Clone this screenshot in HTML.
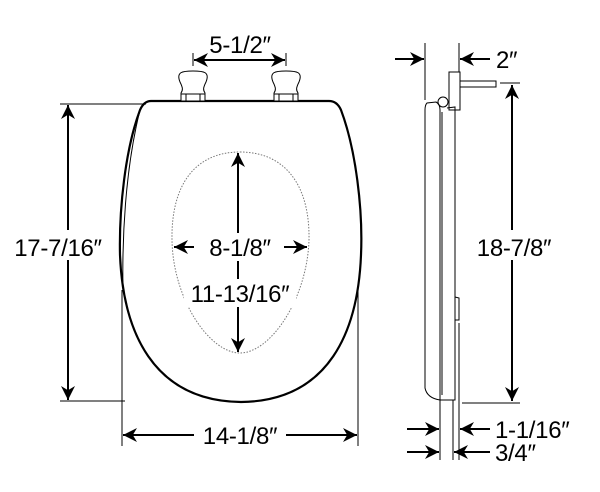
<!DOCTYPE html>
<html><head><meta charset="utf-8"><style>
html,body{margin:0;padding:0;background:#fff;}
svg{display:block}
text{font-family:"Liberation Sans",Arial,sans-serif;fill:#000;font-size:24px;letter-spacing:-0.3px}
</style></head><body>
<svg width="600" height="492" viewBox="0 0 600 492" xmlns="http://www.w3.org/2000/svg">
<defs>
<marker id="a" viewBox="0 0 10 10" refX="10" refY="5" markerWidth="15" markerHeight="14" markerUnits="userSpaceOnUse" orient="auto"><path d="M0,0 L10,5 L0,10 L3,5 Z" fill="#000"/></marker>
</defs>
<g fill="none" stroke="#000" stroke-width="1">
<path d="M151,101 L329,101 Q337,101 341,110 C356,150 363,210 361,255 C358,330 330,401 241,402 C152,401 123,330 120,255 C119,210 125,150 140,110 Q144,101 151,101 Z" stroke-width="2.2"/>
<path d="M123,290 C122,240 125,170 140,110" stroke-width="1"/>
<path d="M180,82 C176,72 182,71 193,71 C204,71 210,72 206,82 C203,88 203,90 205,93 L205,101 L181,101 L181,93 C183,90 183,88 180,82 Z" fill="#fff"/>
<line x1="186" y1="94" x2="186" y2="101"/><line x1="200" y1="94" x2="200" y2="101"/><line x1="181" y1="94" x2="205" y2="94"/>
<path d="M273,82 C269,72 275,71 286,71 C297,71 303,72 299,82 C296,88 296,90 298,93 L298,101 L274,101 L274,93 C276,90 276,88 273,82 Z" fill="#fff"/>
<line x1="279" y1="94" x2="279" y2="101"/><line x1="293" y1="94" x2="293" y2="101"/><line x1="274" y1="94" x2="298" y2="94"/>
<line x1="193" y1="53" x2="193" y2="66"/><line x1="286" y1="53" x2="286" y2="66"/>
<line x1="240" y1="60" x2="194" y2="60" marker-end="url(#a)" stroke-width="2"/>
<line x1="240" y1="60" x2="285" y2="60" marker-end="url(#a)" stroke-width="2"/>
<line x1="60" y1="104" x2="146" y2="104"/><line x1="60" y1="401" x2="125" y2="401"/>
<line x1="68" y1="250" x2="68" y2="105" marker-end="url(#a)" stroke-width="2"/>
<line x1="68" y1="250" x2="68" y2="400" marker-end="url(#a)" stroke-width="2"/>
<line x1="122" y1="290" x2="122" y2="446"/><line x1="358" y1="290" x2="358" y2="446"/>
<line x1="240" y1="435" x2="123" y2="435" marker-end="url(#a)" stroke-width="2"/>
<line x1="240" y1="435" x2="357" y2="435" marker-end="url(#a)" stroke-width="2"/>
<path d="M240,152 C285,152 310,185 309,240 C307,300 270,353 240,353 C210,353 173,300 172,240 C171,185 195,152 240,152 Z" stroke="#777" stroke-dasharray="1.5,1.5"/>
<line x1="238" y1="250" x2="238" y2="153" marker-end="url(#a)" stroke-width="2"/>
<line x1="238" y1="250" x2="238" y2="352" marker-end="url(#a)" stroke-width="2"/>
<line x1="240" y1="247" x2="174" y2="247" marker-end="url(#a)" stroke-width="2"/>
<line x1="240" y1="247" x2="307" y2="247" marker-end="url(#a)" stroke-width="2"/>
<line x1="425" y1="43" x2="425" y2="100"/><line x1="459" y1="43" x2="459" y2="72"/>
<line x1="395" y1="59" x2="424" y2="59" marker-end="url(#a)" stroke-width="2"/>
<line x1="490" y1="59" x2="460" y2="59" marker-end="url(#a)" stroke-width="2"/>
<path d="M449,72 L460,72 L460,110 L449,110 Z" fill="#fff"/>
<rect x="460" y="81" width="36" height="6" fill="#fff"/>
<circle cx="443" cy="102" r="5" fill="#fff"/>
<path d="M427,103 Q425,105 425,110 L425,388 Q427,398 440,400 L440,110 Q440,104 436,102 Z"/>
<path d="M440,110 L440,400 L455,400 L455,107 L447,108"/>
<path d="M442,112 L442,395"/>
<path d="M455,297 L459,298 L459,320 L455,320"/>
<line x1="459" y1="323" x2="459" y2="460"/>
<line x1="440" y1="400" x2="440" y2="460"/><line x1="453" y1="400" x2="453" y2="460"/>
<line x1="500" y1="83" x2="520" y2="83"/><line x1="462" y1="403" x2="520" y2="403"/>
<line x1="512" y1="250" x2="512" y2="85" marker-end="url(#a)" stroke-width="2"/>
<line x1="512" y1="250" x2="512" y2="401" marker-end="url(#a)" stroke-width="2"/>
<line x1="407" y1="429" x2="439" y2="429" marker-end="url(#a)" stroke-width="2"/>
<line x1="490" y1="429" x2="460" y2="429" marker-end="url(#a)" stroke-width="2"/>
<line x1="407" y1="452" x2="439" y2="452" marker-end="url(#a)" stroke-width="2"/>
<line x1="490" y1="452" x2="454" y2="452" marker-end="url(#a)" stroke-width="2"/>
</g>
<rect x="3" y="230" width="110" height="30" fill="#fff"/>
<rect x="194" y="233" width="90" height="28" fill="#fff"/>
<rect x="184" y="279" width="112" height="28" fill="#fff"/>
<rect x="468" y="230" width="92" height="30" fill="#fff"/>
<rect x="194" y="422" width="92" height="26" fill="#fff"/>
<text x="240" y="53" text-anchor="middle">5-1/2″</text>
<text x="58" y="256" text-anchor="middle">17-7/16″</text>
<text x="240" y="256" text-anchor="middle">8-1/8″</text>
<text x="240" y="302" text-anchor="middle">11-13/16″</text>
<text x="240" y="444" text-anchor="middle">14-1/8″</text>
<text x="496" y="68">2″</text>
<text x="514" y="256" text-anchor="middle">18-7/8″</text>
<text x="495" y="438">1-1/16″</text>
<text x="495" y="461">3/4″</text>
</svg>
</body></html>
